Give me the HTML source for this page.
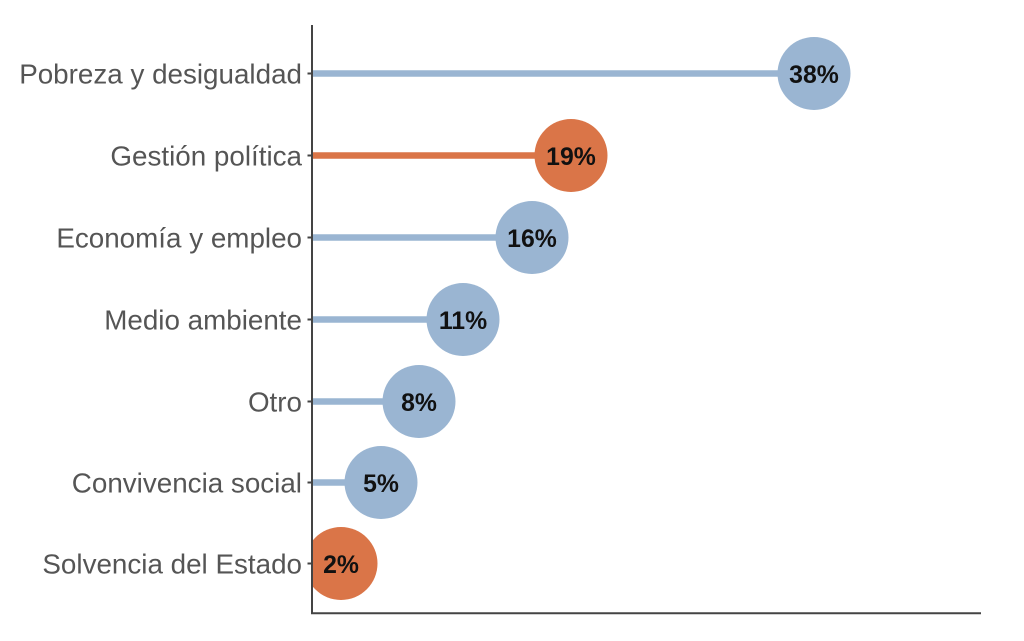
<!DOCTYPE html>
<html>
<head>
<meta charset="utf-8">
<style>
html,body{margin:0;padding:0;background:#fff;}
svg{display:block;}
</style>
</head>
<body>
<svg width="1024" height="641" viewBox="0 0 1024 641" xmlns="http://www.w3.org/2000/svg">
<defs>
<clipPath id="panel"><rect x="312" y="0" width="712" height="641"/></clipPath>
</defs>
<rect width="1024" height="641" fill="#fff"/>
<g clip-path="url(#panel)">
  <line x1="312" y1="73.5" x2="814" y2="73.5" stroke="#9AB5D2" stroke-width="6.5"/>
  <line x1="312" y1="155.5" x2="571" y2="155.5" stroke="#DA7548" stroke-width="6.5"/>
  <line x1="312" y1="237.5" x2="532" y2="237.5" stroke="#9AB5D2" stroke-width="6.5"/>
  <line x1="312" y1="319.5" x2="463" y2="319.5" stroke="#9AB5D2" stroke-width="6.5"/>
  <line x1="312" y1="401.5" x2="419" y2="401.5" stroke="#9AB5D2" stroke-width="6.5"/>
  <line x1="312" y1="482.5" x2="381" y2="482.5" stroke="#9AB5D2" stroke-width="6.5"/>
  <circle cx="814" cy="73.5" r="36.5" fill="#9AB5D2"/>
  <circle cx="571" cy="155.5" r="36.5" fill="#DA7548"/>
  <circle cx="532" cy="237.5" r="36.5" fill="#9AB5D2"/>
  <circle cx="463" cy="319.5" r="36.5" fill="#9AB5D2"/>
  <circle cx="419" cy="401.5" r="36.5" fill="#9AB5D2"/>
  <circle cx="381" cy="482.5" r="36.5" fill="#9AB5D2"/>
  <circle cx="341" cy="563.5" r="36.5" fill="#DA7548"/>
</g>
<g font-family="Liberation Sans, Arial, sans-serif" font-weight="bold" font-size="24.8" fill="#111" text-anchor="middle">
  <text x="814" y="83">38%</text>
  <text x="571" y="165">19%</text>
  <text x="532" y="247">16%</text>
  <text x="463" y="329">11%</text>
  <text x="419" y="411">8%</text>
  <text x="381" y="492">5%</text>
  <text x="341" y="573">2%</text>
</g>
<line x1="312" y1="25" x2="312" y2="614" stroke="#444" stroke-width="2"/>
<line x1="311" y1="613.3" x2="981" y2="613.3" stroke="#444" stroke-width="2"/>
<g stroke="#444" stroke-width="2">
  <line x1="307.5" y1="73.5" x2="312" y2="73.5"/>
  <line x1="307.5" y1="155.5" x2="312" y2="155.5"/>
  <line x1="307.5" y1="237.5" x2="312" y2="237.5"/>
  <line x1="307.5" y1="319.5" x2="312" y2="319.5"/>
  <line x1="307.5" y1="401.5" x2="312" y2="401.5"/>
  <line x1="307.5" y1="482.5" x2="312" y2="482.5"/>
  <line x1="307.5" y1="563.5" x2="312" y2="563.5"/>
</g>
<g font-family="Liberation Sans, Arial, sans-serif" font-size="27.8" fill="#555" text-anchor="end">
  <text x="302" y="83.5">Pobreza y desigualdad</text>
  <text x="302" y="165.5">Gestión política</text>
  <text x="302" y="247.5">Economía y empleo</text>
  <text x="302" y="329.5">Medio ambiente</text>
  <text x="302" y="411.5">Otro</text>
  <text x="302" y="492.5">Convivencia social</text>
  <text x="302" y="573.5">Solvencia del Estado</text>
</g>
</svg>
</body>
</html>
